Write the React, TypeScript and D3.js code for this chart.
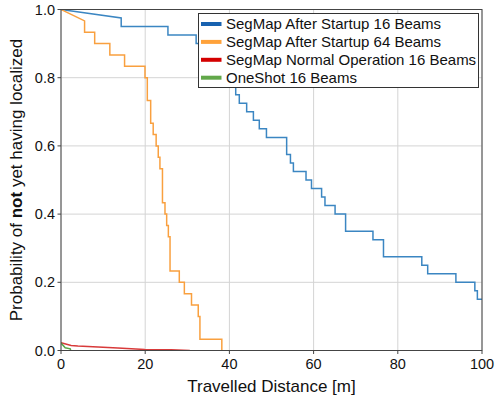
import React from 'react';
import * as d3 from 'd3';

const xTicks = [0, 20, 40, 60, 80, 100];
const yTicks = [0, 0.2, 0.4, 0.6, 0.8, 1.0];

// SegMap After Startup 16 Beams: event distances and remaining runs out of 40
const blueTotal = 40;
const blueDist = [14.3, 25.4, 32.1, 34.5, 36.8, 38.5, 40.0, 41.2, 41.5, 42.35, 44.1, 45.7, 47.1, 48.8, 53.6, 54.5, 55.2, 58.2, 59.5, 61.9, 62.7, 65.1, 67.6, 74.1, 76.6, 85.7, 87.1, 93.8, 98.3, 98.9];
const blueCount = [38, 37, 36, 35, 34, 33, 32, 31, 30, 29, 28, 27, 26, 25, 23, 22, 21, 20, 19, 18, 17, 16, 14, 13, 11, 10, 9, 8, 7, 6];
const blueEnd = 100;

// SegMap After Startup 64 Beams: remaining runs out of 30
const orangeTotal = 30;
const orangeDist = [5.6, 8.0, 11.6, 15.1, 19.95, 20.5, 21.3, 21.9, 22.6, 23.1, 23.5, 24.1, 24.7, 25.1, 25.5, 25.9, 28.1, 29.3, 31.0, 32.6, 33.0, 38.2];
const orangeCount = [28, 27, 26, 25, 24, 22, 20, 19, 18, 17, 16, 13, 12, 11, 10, 7, 6, 5, 4, 3, 1, 0];

// SegMap Normal Operation 16 Beams
const redDist = [0, 0.9, 2.4, 4.0, 8.8, 13.5, 19.9, 26.2, 30.6];
const redProb = [0.023, 0.020, 0.015, 0.013, 0.010, 0.007, 0.003, 0.002, 0.0];

// OneShot 16 Beams
const greenDist = [0, 1.0, 2.2, 2.3];
const greenProb = [0.022, 0.008, 0.005, 0.0];

const legendLabels = [
  'SegMap After Startup 16 Beams',
  'SegMap After Startup 64 Beams',
  'SegMap Normal Operation 16 Beams',
  'OneShot 16 Beams',
];
const lineColors = ['#3b86c2', '#f9a03f', '#d83a3a', '#5aa848'];
const legendColors = ['#1862b0', '#ffa23a', '#d40000', '#62a84a'];

function stepPoints(dist: number[], count: number[], total: number, end?: number): [number, number][] {
  const pts: [number, number][] = [[0, 1]];
  let level = (total - 1) / total;
  dist.forEach((d, i) => {
    pts.push([d, level]);
    level = count[i] / total;
    pts.push([d, level]);
  });
  if (end !== undefined) pts.push([end, level]);
  return pts;
}

export default function App() {
  const W = 498, H = 399;
  const left = 61, right = 482, top = 9.5, bottom = 350.5;
  const x = d3.scaleLinear().domain([0, 100]).range([left, right]);
  const y = d3.scaleLinear().domain([0, 1]).range([bottom, top]);
  const line = d3.line<[number, number]>().x(d => x(d[0])).y(d => y(d[1]));

  const series: [number, number][][] = [
    stepPoints(blueDist, blueCount, blueTotal, blueEnd),
    stepPoints(orangeDist, orangeCount, orangeTotal),
    redDist.map((d, i) => [d, redProb[i]] as [number, number]),
    greenDist.map((d, i) => [d, greenProb[i]] as [number, number]),
  ];

  const font = "'Liberation Sans', Arial, Helvetica, sans-serif";
  const legX = 198.5, legY = 13.5, legW = 280, legH = 74;

  return (
    <svg width={W} height={H} style={{ position: 'absolute', left: 0, top: 0, background: '#fff', fontFamily: font }}>
      <defs>
        <clipPath id="plot">
          <rect x={left} y={top} width={right - left} height={bottom - top} />
        </clipPath>
      </defs>
      <rect x={0} y={0} width={W} height={H} fill="#fff" />
      {/* grid */}
      {xTicks.map(t => (
        <line key={'gx' + t} x1={x(t)} x2={x(t)} y1={top} y2={bottom} stroke="#d4d4d4" strokeWidth={1} />
      ))}
      {yTicks.map(t => (
        <line key={'gy' + t} x1={left} x2={right} y1={y(t)} y2={y(t)} stroke="#d4d4d4" strokeWidth={1} />
      ))}
      {/* series */}
      <g clipPath="url(#plot)">
        {series.map((s, i) => (
          <path key={i} d={line(s) || ''} fill="none" stroke={lineColors[i]} strokeWidth={1.5} strokeLinejoin="miter" />
        ))}
      </g>
      {/* frame */}
      <rect x={left} y={top} width={right - left} height={bottom - top} fill="none" stroke="#444" strokeWidth={1} />
      {/* ticks */}
      {xTicks.map(t => (
        <g key={'tx' + t}>
          <line x1={x(t)} x2={x(t)} y1={bottom} y2={bottom + 3.5} stroke="#444" />
          <text x={x(t)} y={bottom + 18} textAnchor="middle" fontSize={14.5} fill="#111">{t}</text>
        </g>
      ))}
      {yTicks.map(t => (
        <g key={'ty' + t}>
          <line x1={left - 3.5} x2={left} y1={y(t)} y2={y(t)} stroke="#444" />
          <text x={left - 6} y={y(t) + 5} textAnchor="end" fontSize={14.5} fill="#111">{t.toFixed(1)}</text>
        </g>
      ))}
      {/* axis labels */}
      <text x={(left + right) / 2} y={392} textAnchor="middle" fontSize={17} fill="#111">Travelled Distance [m]</text>
      <text transform={`translate(22,${(top + bottom) / 2}) rotate(-90)`} textAnchor="middle" fontSize={17} fill="#111">
        Probability of <tspan fontWeight="bold">not</tspan> yet having localized
      </text>
      {/* legend */}
      <rect x={legX} y={legY} width={legW} height={legH} fill="#fff" stroke="#333" strokeWidth={1} />
      {legendLabels.map((lab, i) => {
        const cy = legY + 10.5 + i * 17.9;
        return (
          <g key={lab}>
            <line x1={legX + 2.5} x2={legX + 23} y1={cy} y2={cy} stroke={legendColors[i]} strokeWidth={4} />
            <text x={legX + 27.5} y={cy + 5.3} fontSize={15} fill="#111">{lab}</text>
          </g>
        );
      })}
    </svg>
  );
}
